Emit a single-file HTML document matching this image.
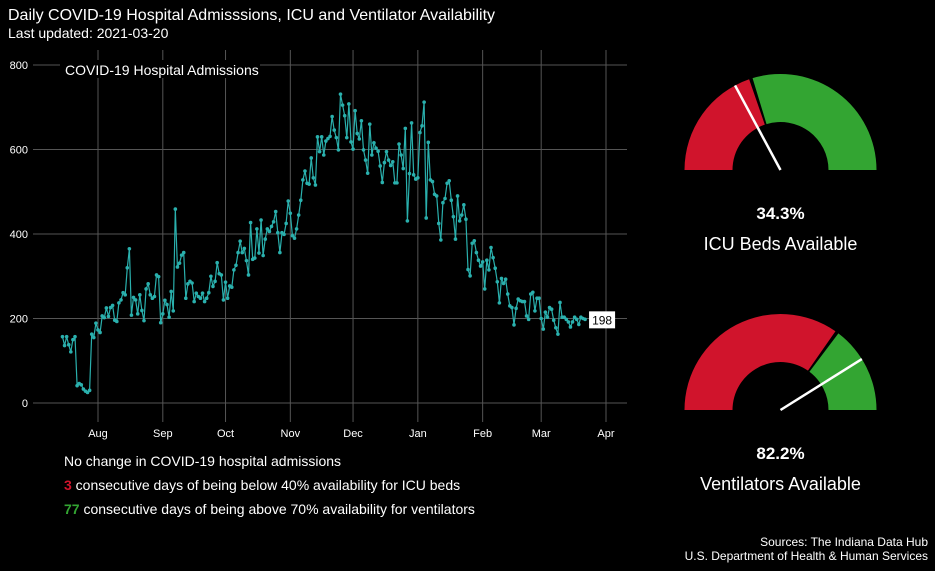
<!DOCTYPE html>
<html><head><meta charset="utf-8"><style>
html,body{margin:0;padding:0;background:#000;}
body{width:935px;height:566px;overflow:hidden;font-family:"Liberation Sans",sans-serif;}
</style></head><body>
<svg id="chart" width="935" height="566" xmlns="http://www.w3.org/2000/svg" font-family="Liberation Sans, sans-serif">
<rect width="935" height="566" fill="#000"/>
<text x="8" y="20" fill="#fff" font-size="16">Daily COVID-19 Hospital Admisssions, ICU and Ventilator Availability</text>
<text x="8" y="38" fill="#fff" font-size="14">Last updated: 2021-03-20</text>
<g id="grid"></g>
<g id="series"></g>
<rect x="60" y="60" width="200" height="18" fill="#000"/>
<text x="65" y="75" fill="#fff" font-size="14">COVID-19 Hospital Admissions</text>
<g id="gauges"></g>
<text x="64" y="466" fill="#fff" font-size="14">No change in COVID-19 hospital admissions</text>
<text x="64" y="490" fill="#fff" font-size="14"><tspan fill="#d0142c" font-weight="bold">3</tspan> consecutive days of being below 40% availability for ICU beds</text>
<text x="64" y="514" fill="#fff" font-size="14"><tspan fill="#33a532" font-weight="bold">77</tspan> consecutive days of being above 70% availability for ventilators</text>
<text x="928" y="546" fill="#fff" font-size="12" text-anchor="end">Sources: The Indiana Data Hub</text>
<text x="928" y="560" fill="#fff" font-size="12" text-anchor="end">U.S. Department of Health &amp; Human Services</text>
</svg>
<script>
const startDate = "2020-07-15";
const admissions = [157,136,157,138,121,150,157,41,46,43,33,28,25,30,163,155,189,173,167,206,202,225,205,226,231,196,193,237,244,261,256,320,365,208,250,244,211,256,219,195,270,282,256,248,252,303,299,190,211,243,233,203,264,218,459,322,331,350,356,248,282,288,284,240,260,252,248,260,240,248,261,300,276,288,332,306,303,244,286,248,277,274,315,326,356,383,356,366,337,303,427,340,
343,412,355,433,349,388,412,406,418,429,453,403,356,403,399,425,478,449,396,390,412,445,480,528,549,520,518,580,533,516,630,595,630,587,620,626,631,678,646,628,599,731,705,680,628,708,618,601,692,638,625,668,599,575,544,660,587,616,603,596,561,522,569,595,575,562,571,521,521,613,587,555,650,431,543,663,540,530,533,640,656,712,438,617,
528,524,494,490,425,386,474,484,520,526,480,441,388,490,431,445,469,435,316,301,378,384,356,338,324,334,270,338,315,368,344,319,287,237,295,283,293,258,230,226,185,224,246,242,240,240,206,198,258,262,218,248,248,200,175,215,203,226,222,196,178,163,238,203,203,198,192,180,192,203,198,186,203,200,198];
const monthLabels = ["Aug","Sep","Oct","Nov","Dec","Jan","Feb","Mar","Apr"];
const monthDates = ["2020-08-01","2020-09-01","2020-10-01","2020-11-01","2020-12-01","2021-01-01","2021-02-01","2021-03-01","2021-04-01"];
const yTicks = [0,200,400,600,800];
const gaugeNames = ["ICU Beds Available","Ventilators Available"];
const gaugeValues = [34.3,82.2];
const gaugeThresholds = [40,70];

const NS="http://www.w3.org/2000/svg";
const DAY=86400000, ORIGIN=Date.parse("2020-08-01");
function xScale(d){return 98+(d-ORIGIN)/DAY*2.0905;}
function yScale(v){return 403-v*(338/800);}
function mk(tag,attrs,parent){const e=document.createElementNS(NS,tag);for(const k in attrs)e.setAttribute(k,attrs[k]);parent.appendChild(e);return e;}

const grid=document.getElementById('grid');
yTicks.forEach(t=>{
  const l=mk('line',{x1:33,x2:627,y1:yScale(t),y2:yScale(t),stroke:'#555','stroke-width':1},grid);
  
  
  const tx=mk('text',{x:28,y:yScale(t)+4,fill:'#fff','font-size':11,'text-anchor':'end'},grid);
  tx.textContent=t;
  
  
});
monthDates.forEach((d,i)=>{
  const x=xScale(Date.parse(d));
  const l=mk('line',{x1:x,x2:x,y1:50,y2:422,stroke:'#555','stroke-width':1},grid);
  
  
  const tx=mk('text',{x:x,y:437,fill:'#fff','font-size':11,'text-anchor':'middle'},grid);
  tx.textContent=monthLabels[i];
  
  
});

const ser=document.getElementById('series');
const s0=Date.parse(startDate);
const pts=admissions.map((v,i)=>[xScale(s0+i*DAY),yScale(v)]);
const pl=mk('polyline',{points:pts.map(p=>p[0].toFixed(1)+','+p[1].toFixed(1)).join(' '),fill:'none',stroke:'#2ab0ad','stroke-width':1.2},ser);


pts.forEach(p=>{
  const c=mk('circle',{cx:p[0],cy:p[1],r:1.8,fill:'#2ab0ad'},ser);
  
  
});
const last=pts[pts.length-1];
const lb=mk('rect',{x:last[0]+4,y:last[1]-8,width:26,height:17,fill:'#fff'},ser);


const lt=mk('text',{x:last[0]+17,y:last[1]+5,fill:'#000','font-size':12,'text-anchor':'middle'},ser);
lt.textContent=admissions[admissions.length-1];



const gg=document.getElementById('gauges');
const centers=[[780.5,170],[780.5,410]];
const R=96,r=48;
function pol(cx,cy,rad,frac){const a=Math.PI*(1-frac);return [cx+rad*Math.cos(a),cy-rad*Math.sin(a)];}
function arc(cx,cy,f0,f1){
  const a=pol(cx,cy,R,f0),b=pol(cx,cy,R,f1),c=pol(cx,cy,r,f1),d=pol(cx,cy,r,f0);
  return `M${a[0]},${a[1]} A${R},${R} 0 0 1 ${b[0]},${b[1]} L${c[0]},${c[1]} A${r},${r} 0 0 0 ${d[0]},${d[1]} Z`;
}
gaugeValues.forEach((v,i)=>{
  const [cx,cy]=centers[i];
  const th=gaugeThresholds[i]/100, gap=0.006;
  const red=mk('path',{d:arc(cx,cy,0,th-gap),fill:'#d0142c'},gg);
  
  
  const gr=mk('path',{d:arc(cx,cy,th+gap,1),fill:'#33a532'},gg);
  
  
  const e=pol(cx,cy,R,v/100);
  const n=mk('line',{x1:cx,y1:cy,x2:e[0],y2:e[1],stroke:'#fff','stroke-width':2.5},gg);
  
  
  const pv=mk('text',{x:cx,y:cy+49,fill:'#fff','font-size':17,'font-weight':'bold','text-anchor':'middle'},gg);
  pv.textContent=v.toFixed(1)+'%';
  
  
  const nm=mk('text',{x:cx,y:cy+80,fill:'#fff','font-size':18,'text-anchor':'middle'},gg);
  nm.textContent=gaugeNames[i];
  
  
});
</script>
</body></html>
